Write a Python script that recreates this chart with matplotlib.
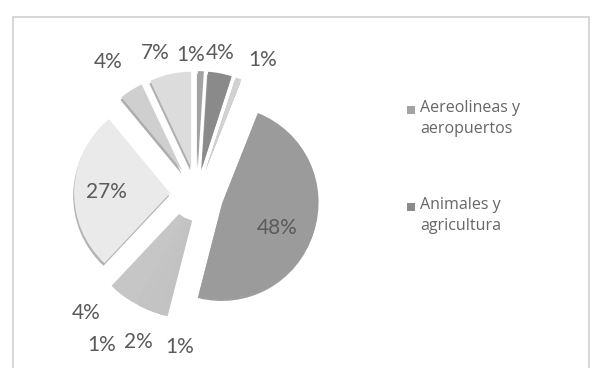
import matplotlib.pyplot as plt
from matplotlib.patches import Rectangle

# shares of each slice, clockwise from 12 o'clock
values = [1, 4, 1, 48, 1, 2, 1, 4, 27, 4, 7]
categories = ['Aereolineas y\naeropuertos', 'Animales y\nagricultura']
colors = ['#a3a3a3', '#8a8a8a', '#d2d2d2', '#9b9b9b', '#c2c2c2', '#c3c3c3',
          '#c4c4c4', '#c6c6c6', '#eaeaea', '#cfcfcf', '#dcdcdc']

# label anchor for each slice, in pie units (radius = 1)
label_pos = [(-0.07, 1.45), (0.24, 1.47), (0.68, 1.40), (0.83, -0.35),
             (-0.18, -1.59), (-0.61, -1.54), (-0.99, -1.57), (-1.15, -1.24),
             (-0.94, 0.02), (-0.93, 1.38), (-0.44, 1.47)]

W, H = 594, 368
cx, cy, R = 197, 194, 96   # pie centre and radius in pixels

plt.rcParams['font.family'] = ['Lato', 'DejaVu Sans']

fig = plt.figure(figsize=(W / 100, H / 100), dpi=100)
ax = fig.add_axes([0, 0, 1, 1])
wedges, _ = ax.pie(values, colors=colors, startangle=90, counterclock=False,
                   explode=[0.28] * len(values),
                   shadow={'ox': -0.007, 'oy': -0.02, 'shade': 0.5, 'alpha': 0.55},
                   wedgeprops={'linewidth': 0})
# the thin slices at the bottom sit close together; close the hairline gaps
for w in wedges[4:8]:
    w.set_edgecolor(w.get_facecolor())
    w.set_linewidth(4)
ax.set_xlim(-cx / R, (W - cx) / R)
ax.set_ylim(-(H - cy) / R, cy / R)
ax.set_aspect('auto')
ax.axis('off')

for v, (x, y) in zip(values, label_pos):
    ax.text(x, y, f'{v}%', ha='center', va='center', fontsize=15, color='#5a5a5a')


def fx(px):
    return px / W


def fy(py):
    return 1 - py / H


# chart area border
fig.patches.append(Rectangle((fx(13), fy(372)), fx(589) - fx(13), fy(17) - fy(372),
                             transform=fig.transFigure, fill=False,
                             edgecolor='#cfcfcf', linewidth=1.2))

# legend: only the first two series names fit
for i, (name, top) in enumerate(zip(categories, [110, 207])):
    fig.patches.append(Rectangle((fx(407), fy(top + 4)), fx(8), 8 / H,
                                 transform=fig.transFigure, facecolor=colors[i],
                                 edgecolor='none'))
    fig.text(fx(420), fy(top - 10), name, ha='left', va='top', fontsize=11.5,
             color='#666666', linespacing=1.45, family=['Open Sans', 'DejaVu Sans'])

fig.savefig('out.png', dpi=100)
